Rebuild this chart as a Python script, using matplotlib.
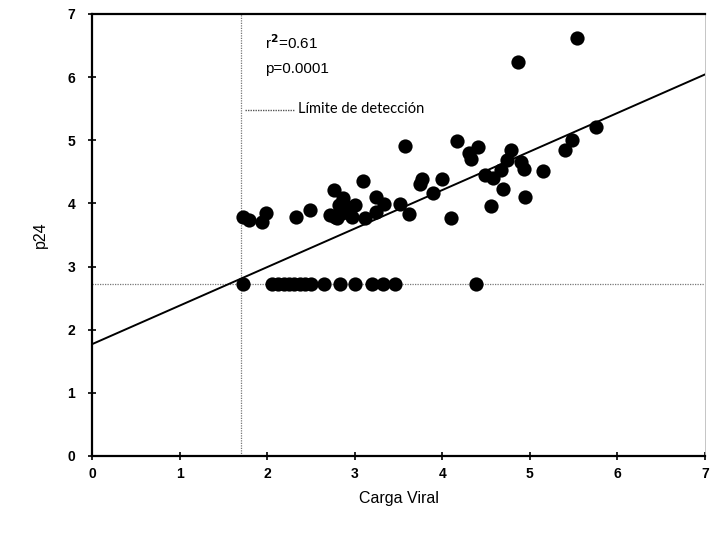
import matplotlib
matplotlib.use("Agg")
import matplotlib.pyplot as plt

plt.rcParams['font.family'] = ['Liberation Sans', 'DejaVu Sans']

# Detectable samples (Carga Viral, p24)
carga_viral = [1.72, 1.79, 1.94, 1.99, 2.33, 2.49, 2.76, 2.72, 2.78, 2.82,
               2.85, 2.87, 2.89, 2.80, 2.97, 3.00, 3.09, 3.12, 3.24, 3.24,
               3.33, 3.52, 3.57, 3.62, 3.75, 3.77, 3.89, 4.00, 4.10, 4.17,
               4.31, 4.33, 4.41, 4.49, 4.58, 4.56, 4.67, 4.69, 4.74, 4.79,
               4.90, 4.93, 4.95, 4.87, 5.15, 5.40, 5.48, 5.54, 5.76]
p24 = [3.79, 3.73, 3.71, 3.85, 3.78, 3.90, 4.21, 3.82, 3.79, 3.98,
       3.85, 4.08, 3.95, 3.77, 3.79, 3.98, 4.35, 3.77, 4.10, 3.87,
       3.99, 3.99, 4.90, 3.83, 4.30, 4.39, 4.16, 4.39, 3.76, 4.99,
       4.79, 4.70, 4.89, 4.45, 4.40, 3.95, 4.52, 4.23, 4.69, 4.84,
       4.66, 4.55, 4.10, 6.23, 4.51, 4.84, 5.01, 6.62, 5.21]

# Samples at the p24 detection limit
carga_viral_limite = [1.72, 2.06, 2.13, 2.19, 2.25, 2.31, 2.37, 2.43, 2.50,
                      2.65, 2.83, 3.00, 3.20, 3.32, 3.46, 4.39]
p24_limite_valor = 2.72
carga_limite_valor = 1.70

# Regression line
intercepto = 1.77
pendiente = 0.61
r2_text = "r$^{\\mathbf{2}}$=0.61"
p_text = "p=0.0001"
legend_text = "Límite de detección"

x_ticks = [0, 1, 2, 3, 4, 5, 6, 7]
y_ticks = [0, 1, 2, 3, 4, 5, 6, 7]

fig = plt.figure(figsize=(7.11, 5.33), dpi=100)
ax = fig.add_axes([0.1294, 0.1445, 0.862, 0.8295])

ax.set_xlim(0, 7)
ax.set_ylim(0, 7)

# detection limit lines
ax.plot([0, 7], [p24_limite_valor, p24_limite_valor], color='#777777',
        linestyle=(0, (1, 1)), linewidth=0.9, zorder=1)
ax.plot([carga_limite_valor, carga_limite_valor], [0, 7], color='#777777',
        linestyle=(0, (1, 1)), linewidth=0.9, zorder=1)

# regression line
ax.plot([0, 7], [intercepto, intercepto + pendiente * 7], color='black',
        linewidth=1.4, zorder=2)

ax.scatter(carga_viral, p24, s=105, color='black', zorder=3, linewidths=0)
ax.scatter(carga_viral_limite, [p24_limite_valor] * len(carga_viral_limite),
           s=105, color='black', zorder=3, linewidths=0)

# annotations
ax.text(1.975, 6.55, r2_text, fontsize=11, va='center', ha='left')
ax.text(1.975, 6.13, p_text, fontsize=11, va='center', ha='left')
ax.plot([1.75, 2.32], [5.48, 5.48], color='#555555', linestyle=(0, (1, 0.8)),
        linewidth=1.0)
ax.text(2.35, 5.49, legend_text, fontsize=10.5, va='center', ha='left',
        family=['Lato', 'DejaVu Sans'])

ax.set_xticks(x_ticks)
ax.set_yticks(y_ticks)
ax.tick_params(axis='both', direction='inout', length=6, width=1.2,
               labelsize=10)
ax.tick_params(axis='x', pad=5)
ax.tick_params(axis='y', pad=9)
for lab in ax.get_xticklabels() + ax.get_yticklabels():
    lab.set_fontweight('bold')

for s in ['left', 'bottom', 'top']:
    ax.spines[s].set_linewidth(1.6)
    ax.spines[s].set_color('black')
ax.spines['right'].set_linewidth(0.6)
ax.spines['right'].set_color('#bbbbbb')

ax.set_xlabel('Carga Viral', fontsize=11.5, labelpad=7)
ax.set_ylabel('p24', fontsize=11.5, labelpad=14)

fig.savefig('out.png', dpi=100)
